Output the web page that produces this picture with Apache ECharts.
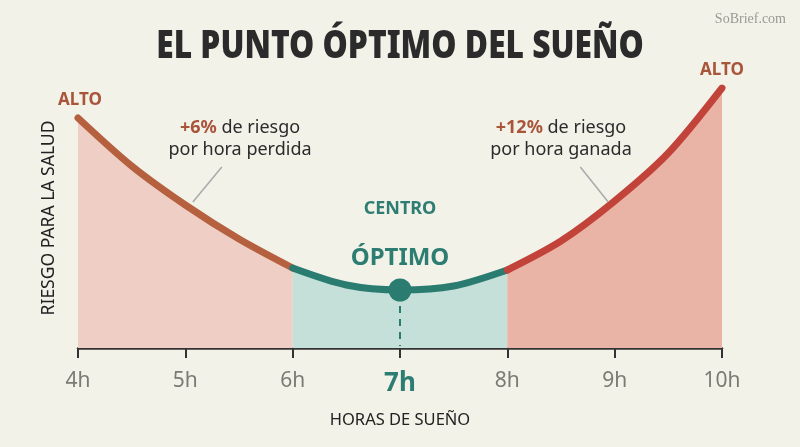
<!DOCTYPE html>
<html><head><meta charset="utf-8">
<script src="https://cdn.jsdelivr.net/npm/echarts@6/dist/echarts.min.js"></script>
<style>html,body{margin:0;padding:0;background:#f2f2e9;}#c{width:800px;height:447px;}</style>
</head><body><div id="c"></div>
<script>
const hourTicks = [4,5,6,7,8,9,10];
const tickLabels = ['4h','5h','6h','7h','8h','9h','10h'];
const leftZone = [[4,230],[4.5,182],[5,143],[5.5,109],[6,80]];
const centerZone = [[6,80],[6.5,63],[7,58],[7.5,62],[8,78]];
const rightZone = [[8,78],[8.5,107],[9,147],[9.5,195],[10,260]];
const optimum = [[7,58]];
const leftPointer = [[5.34,181],[5.07,146]];
const rightPointer = [[8.68,181],[8.94,146]];

const F = '"Noto Sans", "Open Sans", sans-serif';
const chart = echarts.init(document.getElementById('c'), null, {renderer:'canvas'});
function zone(data, line, area){
  return {type:'line', data, smooth:0.3, symbol:'none', z:3,
    lineStyle:{color:line, width:7, cap:'round'},
    areaStyle:{color:area, opacity:1}};
}
const option = {
  backgroundColor:'#f2f2e9',
  animation:false,
  grid:{left:78, right:78, top:88, bottom:99},
  xAxis:{type:'value', min:4, max:10, interval:1,
    name:'HORAS DE SUEÑO', nameLocation:'middle', nameGap:64,
    nameTextStyle:{color:'#222', fontSize:16.5, fontFamily:F},
    axisLine:{lineStyle:{color:'#333', width:2.5}},
    axisTick:{length:10, lineStyle:{color:'#333', width:2}},
    splitLine:{show:false},
    axisLabel:{margin:23, color:'#7b7b73', fontSize:21, fontFamily:F,
      formatter:function(v){const i=hourTicks.indexOf(v); const t=tickLabels[i]; return v===7?'{b|'+t+'}':t;},
      rich:{b:{color:'#2e7d72', fontSize:26, fontWeight:'bold', fontFamily:F}}}},
  yAxis:{type:'value', min:0, max:260, show:true,
    name:'RIESGO PARA LA SALUD', nameLocation:'middle', nameGap:20, nameRotate:90,
    nameTextStyle:{color:'#222', fontSize:17.5, fontFamily:F},
    axisLine:{show:false}, axisTick:{show:false}, axisLabel:{show:false}, splitLine:{show:false}},
  series:[
    zone(leftZone,'#b5603e','#efcfc5'),
    zone(centerZone,'#2a7b70','#c4e0d8'),
    zone(rightZone,'#c2433a','#e9b3a6'),
    {type:'scatter', data:optimum, symbolSize:23, itemStyle:{color:'#2a7b70', opacity:1}, z:5,
      markLine:{silent:true, symbol:'none', label:{show:false},
        lineStyle:{color:'#2a7b70', type:[7,6], width:2},
        data:[[{coord:[7,42]},{coord:[7,2]}]]}},
    {type:'line', data:[], markLine:{silent:true, symbol:'none', label:{show:false},
        lineStyle:{color:'#aaa', type:'solid', width:1.5},
        data:[[{coord:leftPointer[0]},{coord:leftPointer[1]}],[{coord:rightPointer[0]},{coord:rightPointer[1]}]]}}
  ],
  graphic:[
    {type:'text', x:400, y:47, style:{text:'EL PUNTO ÓPTIMO DEL SUEÑO', fill:'#2b2b2b', font:'900 38px '+F, align:'center', verticalAlign:'middle'}, scaleX:0.835},
    {type:'text', right:14, top:12, style:{text:'SoBrief.com', fill:'#9a9a94', font:'14px "Liberation Serif", serif'}},
    {type:'text', x:80, y:100, style:{text:'ALTO', fill:'#a8553a', font:'bold 17px '+F, align:'center', verticalAlign:'middle'}},
    {type:'text', x:722, y:70, style:{text:'ALTO', fill:'#a8553a', font:'bold 17px '+F, align:'center', verticalAlign:'middle'}},
    {type:'text', x:240, y:128, style:{text:'{b|+6%} de riesgo', align:'center', verticalAlign:'middle', fill:'#2b2b2b', font:'18px '+F, rich:{b:{fill:'#a8553a', font:'bold 18px '+F}}}},
    {type:'text', x:240, y:150, style:{text:'por hora perdida', align:'center', verticalAlign:'middle', fill:'#2b2b2b', font:'18px '+F}},
    {type:'text', x:561, y:128, style:{text:'{b|+12%} de riesgo', align:'center', verticalAlign:'middle', fill:'#2b2b2b', font:'18px '+F, rich:{b:{fill:'#a8553a', font:'bold 18px '+F}}}},
    {type:'text', x:561, y:150, style:{text:'por hora ganada', align:'center', verticalAlign:'middle', fill:'#2b2b2b', font:'18px '+F}},
    {type:'text', x:400, y:209, style:{text:'CENTRO', align:'center', verticalAlign:'middle', fill:'#2e7d72', font:'bold 18px '+F}},
    {type:'text', x:400, y:258, style:{text:'ÓPTIMO', align:'center', verticalAlign:'middle', fill:'#2e7d72', font:'bold 24px '+F}},
    {type:'text', x:97, y:255, style:{text:'Zona de peligro', verticalAlign:'middle', fill:'#2b2b2b', font:'17px '+F}},
    {type:'text', x:97, y:277, style:{text:'IZQUIERDA', verticalAlign:'middle', fill:'#2b2b2b', font:'17px '+F}},
    {type:'text', x:97, y:322, style:{text:'Muy poco', verticalAlign:'middle', fill:'#2b2b2b', font:'17px '+F}},
    {type:'text', x:705, y:255, style:{text:'Zona de peligro', align:'right', verticalAlign:'middle', fill:'#2b2b2b', font:'17px '+F}},
    {type:'text', x:705, y:277, style:{text:'DERECHA', align:'right', verticalAlign:'middle', fill:'#2b2b2b', font:'17px '+F}},
    {type:'text', x:705, y:322, style:{text:'Demasiado', align:'right', verticalAlign:'middle', fill:'#2b2b2b', font:'17px '+F}}
  ]
};
chart.setOption(option);
</script></body></html>
